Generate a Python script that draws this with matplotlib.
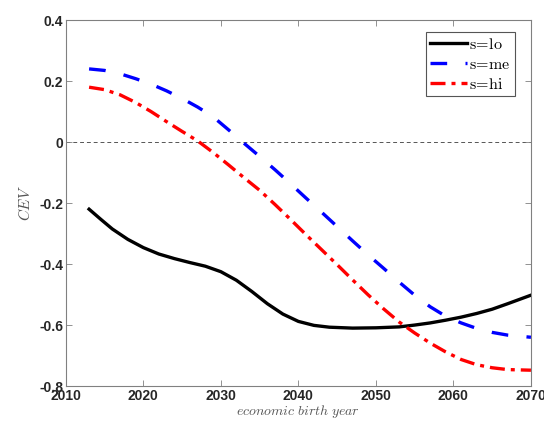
import matplotlib
matplotlib.use("Agg")
import matplotlib.pyplot as plt

# values
years_lo = [2013, 2014.5, 2016, 2018, 2020, 2022, 2024, 2026, 2028, 2030, 2032, 2034,
            2036, 2038, 2040, 2042, 2044, 2047, 2050, 2053, 2055, 2057, 2059, 2061,
            2063, 2065, 2067, 2070]
cev_lo = [-0.22, -0.253, -0.285, -0.319, -0.346, -0.367, -0.382, -0.395, -0.407, -0.425,
          -0.453, -0.49, -0.53, -0.564, -0.588, -0.601, -0.607, -0.61, -0.609, -0.606,
          -0.6, -0.593, -0.584, -0.574, -0.562, -0.548, -0.53, -0.502]

years_me = [2013, 2015, 2017, 2019, 2021, 2023, 2025, 2027, 2029, 2031, 2033, 2035,
            2037, 2039, 2041, 2043, 2045, 2047, 2049, 2051, 2053, 2055, 2057, 2059,
            2061, 2063, 2065, 2067, 2070]
cev_me = [0.24, 0.235, 0.224, 0.208, 0.19, 0.168, 0.143, 0.115, 0.083, 0.04, -0.004,
          -0.047, -0.091, -0.137, -0.184, -0.23, -0.277, -0.324, -0.37, -0.414, -0.459,
          -0.502, -0.54, -0.571, -0.593, -0.611, -0.624, -0.633, -0.64]

years_hi = [2013, 2015, 2017, 2019, 2021, 2023, 2025, 2027, 2029, 2031, 2033, 2035,
            2037, 2039, 2041, 2043, 2045, 2047, 2049, 2051, 2053, 2055, 2057, 2059,
            2061, 2063, 2065, 2067, 2070]
cev_hi = [0.18, 0.172, 0.155, 0.13, 0.1, 0.067, 0.035, 0.004, -0.034, -0.075, -0.117,
          -0.158, -0.205, -0.254, -0.304, -0.353, -0.402, -0.452, -0.501, -0.547, -0.59,
          -0.626, -0.659, -0.688, -0.713, -0.73, -0.74, -0.746, -0.748]

xticks = [2010, 2020, 2030, 2040, 2050, 2060, 2070]
yticks = [-0.8, -0.6, -0.4, -0.2, 0, 0.2, 0.4]
ytick_labels = ['-0.8', '-0.6', '-0.4', '-0.2', '0', '0.2', '0.4']

plt.rcParams['mathtext.fontset'] = 'cm'

fig = plt.figure(figsize=(5.44, 4.28), dpi=100)
ax = fig.add_axes([0.121, 0.098, 0.855, 0.855])

ax.axhline(0, color='#555555', lw=0.7, ls=(0, (4, 3)), zorder=1)

ax.plot(years_lo, cev_lo, color='black', lw=2.4, label=r'$\mathrm{s\!=\!lo}$')
ax.plot(years_me, cev_me, color='blue', lw=2.4, dashes=(5, 5.5),
        label=r'$\mathrm{s\!=\!me}$')
ax.plot(years_hi, cev_hi, color='red', lw=2.4, dashes=(4.5, 1.8, 1.2, 1.8),
        label=r'$\mathrm{s\!=\!hi}$')

ax.set_xlim(2010, 2070)
ax.set_ylim(-0.8, 0.4)
ax.set_xticks(xticks)
ax.set_yticks(yticks)
ax.set_yticklabels(ytick_labels)

for sp in ax.spines.values():
    sp.set_color('#808080')
    sp.set_linewidth(0.8)
ax.tick_params(direction='in', top=True, right=True, length=4, width=0.6,
               color='#808080', labelcolor='#262626', pad=2)
for lab in ax.get_xticklabels() + ax.get_yticklabels():
    lab.set_fontfamily('Liberation Sans')
    lab.set_fontweight('bold')
    lab.set_fontsize(10)

ax.set_xlabel(r'$economic\ birth\ year$', fontsize=10, color='#555555', labelpad=0)
ax.set_ylabel(r'$CEV$', fontsize=11, color='#555555', labelpad=4)

leg = ax.legend(loc='upper right', bbox_to_anchor=(0.966, 0.967), borderaxespad=0,
                fancybox=False, framealpha=1, edgecolor='#555555', handlelength=2.3,
                handletextpad=0.1, borderpad=0.3, labelspacing=0.3, prop={'size': 11.5})
leg.get_frame().set_linewidth(0.8)

fig.savefig('out.png', dpi=100)
